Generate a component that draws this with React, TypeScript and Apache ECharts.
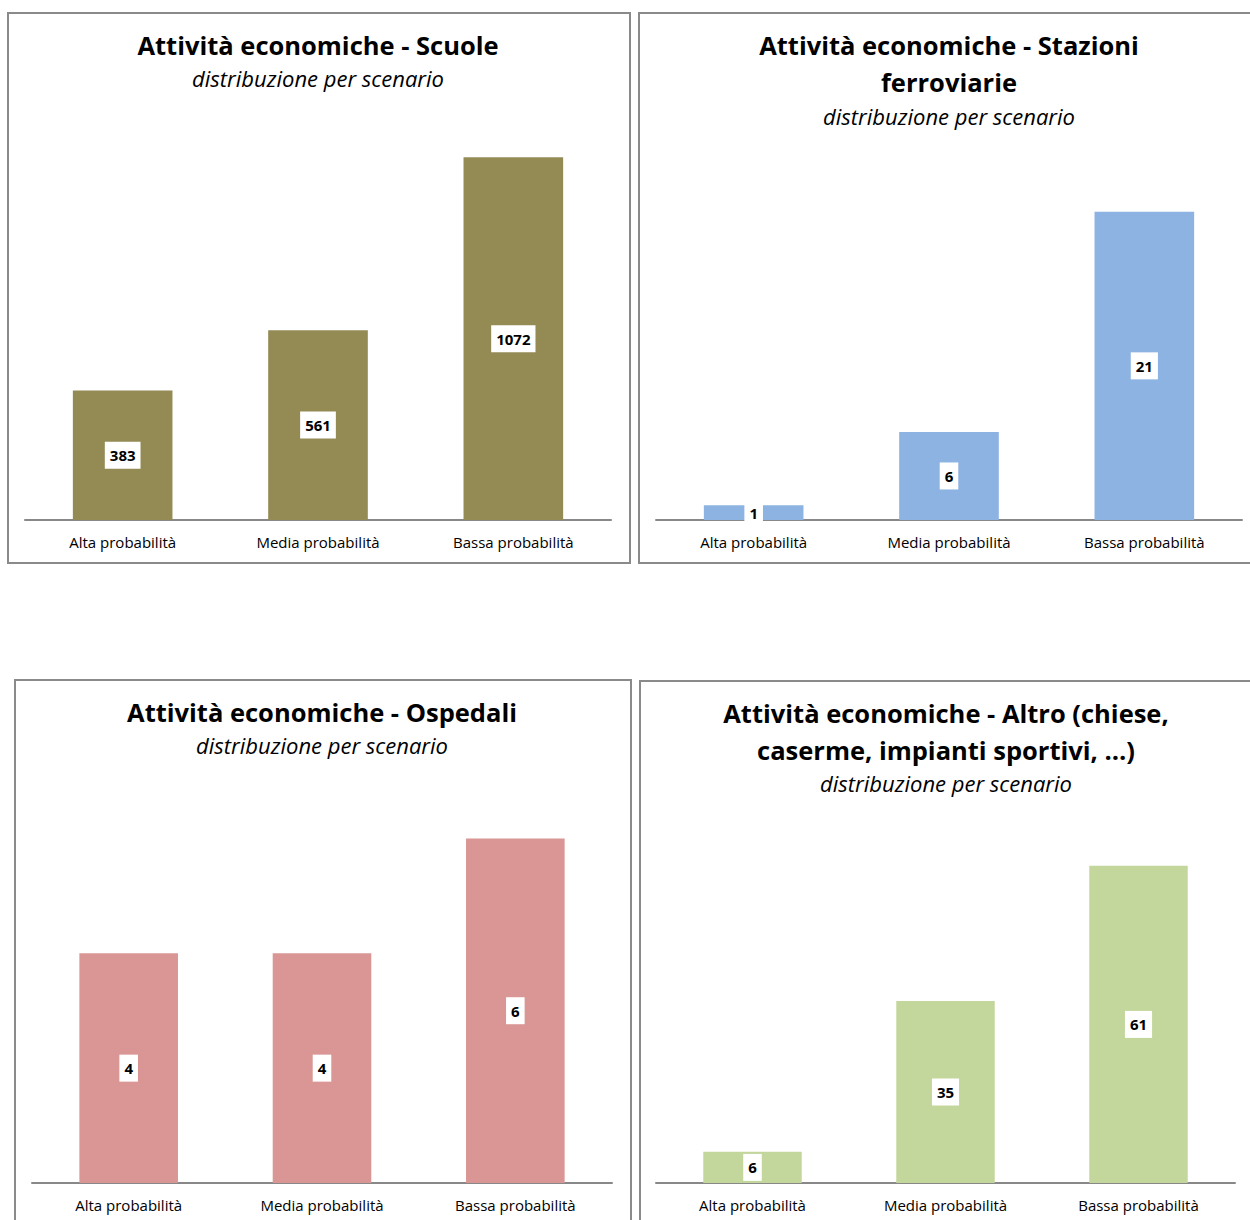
import React, { useEffect, useRef } from "react";
import * as echarts from "echarts";

// Scenario categories shared by every panel
const categories = ["Alta probabilità", "Media probabilità", "Bassa probabilità"];

// Counts per scenario
const scuole = [383, 561, 1072];
const stazioni = [1, 6, 21];
const ospedali = [4, 4, 6];
const altro = [6, 35, 61];

const titles = [
  "Attività economiche - Scuole",
  "Attività economiche - Stazioni\nferroviarie",
  "Attività economiche - Ospedali",
  "Attività economiche - Altro (chiese,\ncaserme, impianti sportivi, …)",
];
const subtitle = "distribuzione per scenario";

const FONT = "'Open Sans', Lato, sans-serif";

const panels = [
  { data: scuole, color: "#948A54", max: 1200, grid: { left: 25, top: 114, width: 586, height: 406 }, title: { x: 318, y: 26, gap: 2 }, box: [8, 13, 622, 550] },
  { data: stazioni, color: "#8DB3E2", max: 25, grid: { left: 656, top: 153, width: 586, height: 367 }, title: { x: 949, y: 26, gap: 3 }, box: [639, 13, 640, 550] },
  { data: ospedali, color: "#D99694", max: 7, grid: { left: 32, top: 781, width: 580, height: 402 }, title: { x: 322, y: 693, gap: 2 }, box: [15, 680, 616, 600] },
  { data: altro, color: "#C3D69B", max: 70, grid: { left: 656, top: 819, width: 579, height: 364 }, title: { x: 946, y: 694, gap: 2 }, box: [640, 681, 640, 600] },
];

export default function App() {
  const ref = useRef<HTMLDivElement>(null);

  useEffect(() => {
    if (!ref.current) return;
    const chart = echarts.init(ref.current, undefined, { renderer: "svg" });

    chart.setOption({
      animation: false,
      backgroundColor: "#fff",
      title: panels.map((p, i) => ({
        text: titles[i],
        subtext: subtitle,
        left: p.title.x,
        top: p.title.y,
        textAlign: "center",
        itemGap: p.title.gap,
        padding: 0,
        textStyle: { fontFamily: FONT, fontSize: 25.5, fontWeight: "bold", color: "#000", lineHeight: 37 },
        subtextStyle: { fontFamily: FONT, fontSize: 22, fontStyle: "italic", color: "#000", lineHeight: 25 },
      })),
      grid: panels.map((p) => ({ ...p.grid })),
      xAxis: panels.map((_, i) => ({
        type: "category",
        gridIndex: i,
        data: categories,
        axisLine: { show: true, lineStyle: { color: "#888", width: 2 } },
        axisTick: { show: false },
        axisLabel: { color: "#000", fontFamily: FONT, fontSize: 15, margin: 14 },
      })),
      yAxis: panels.map((p, i) => ({
        type: "value",
        gridIndex: i,
        min: 0,
        max: p.max,
        show: false,
        splitLine: { show: false },
      })),
      series: panels.map((p, i) => ({
        type: "bar",
        xAxisIndex: i,
        yAxisIndex: i,
        data: p.data,
        barWidth: "51%",
        itemStyle: { color: p.color },
        label: {
          show: true,
          position: "inside",
          color: "#000",
          fontFamily: FONT,
          fontWeight: "bold",
          fontSize: 15,
          lineHeight: 17,
          backgroundColor: "#fff",
          padding: [5, 5, 5, 5],
        },
      })),
      graphic: panels.map((p) => ({
        type: "rect",
        shape: { x: p.box[0], y: p.box[1], width: p.box[2], height: p.box[3] },
        style: { fill: "none", stroke: "#8a8a8a", lineWidth: 2 },
        silent: true,
        z: 10,
      })),
    });

    return () => chart.dispose();
  }, []);

  return (
    <div style={{ position: "absolute", left: 0, top: 0, width: 1250, height: 1220, overflow: "hidden" }}>
      <div ref={ref} style={{ width: 1250, height: 1220 }} />
    </div>
  );
}
